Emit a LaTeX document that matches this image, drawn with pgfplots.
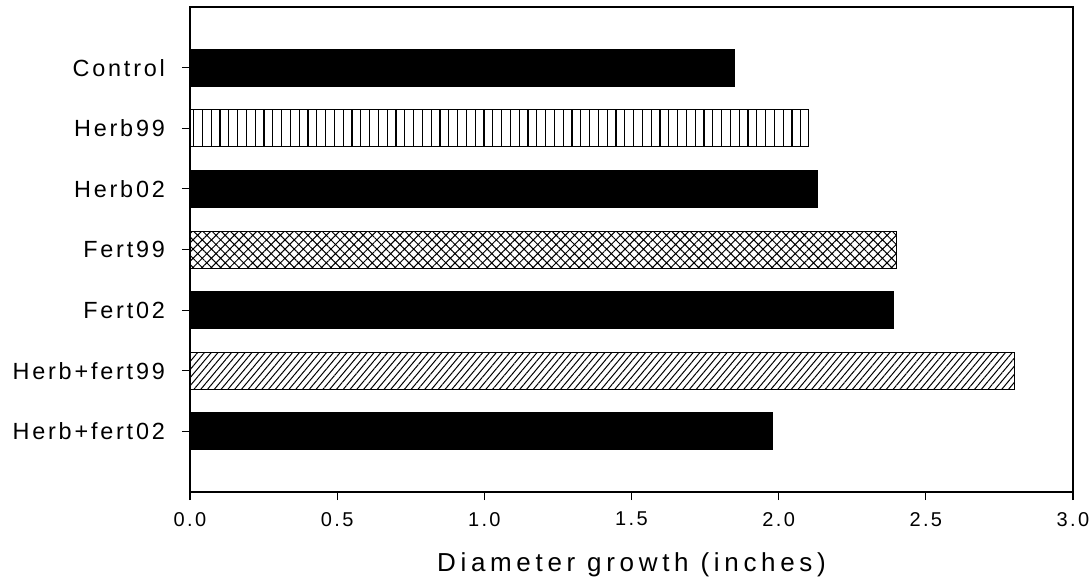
\documentclass[border=0pt]{standalone}
\usepackage{fontspec}
\setmainfont{Liberation Sans}[LetterSpace=12]
\newfontfamily\labfont{Liberation Sans}[LetterSpace=18]
\usepackage{pgfplots}
\pgfplotsset{compat=1.18}
\usetikzlibrary{patterns.meta}
\begin{document}
\begin{tikzpicture}
\begin{axis}[
  scale only axis, width=441.5pt, height=242.5pt,
  xbar, bar width=0.61, bar shift=0pt,
  xmin=0, xmax=3, ymin=-1, ymax=7, y dir=reverse,
  axis line style={line width=0.75pt},
  tick align=outside, xtick pos=bottom, ytick pos=left,
  major tick length=4pt,
  tick style={line width=0.6pt, black},
  ytick={0,1,2,3,4,5,6},
  yticklabels={Control,Herb99,Herb02,Fert99,Fert02,Herb+fert99,Herb+fert02},
  yticklabel style={font=\fontsize{11.7}{14}\selectfont, anchor=east, xshift=-5pt},
  xtick={0,0.5,1,1.5,2,2.5,3},
  xticklabel style={font=\fontsize{10}{12}\selectfont, yshift=-2.5pt,
    /pgf/number format/.cd, fixed, fixed zerofill, precision=1, assume math mode=true},
  xlabel={Diameter growth (inches)},
  xlabel style={font=\labfont\fontsize{13}{15}\selectfont, at={(rel axis cs:0.5,0)}, anchor=center, yshift=-36.5pt},
]
\addplot[fill=black, draw=black, line width=0.4pt] coordinates {(1.85,0)};
\addplot[pattern={Lines[angle=90,distance=4.4pt,line width=0.6pt]}, draw=black, line width=0.5pt] coordinates {(2.10,1)};
\addplot[fill=black, draw=black, line width=0.4pt] coordinates {(2.13,2)};
\addplot[pattern={Hatch[angle=45,distance=3.25pt,line width=0.5pt]}, draw=black, line width=0.5pt] coordinates {(2.40,3)};
\addplot[fill=black, draw=black, line width=0.4pt] coordinates {(2.39,4)};
\addplot[pattern={Lines[angle=50,distance=2.6pt,line width=0.5pt]}, draw=black, line width=0.5pt] coordinates {(2.80,5)};
\addplot[fill=black, draw=black, line width=0.4pt] coordinates {(1.98,6)};
\end{axis}
\pgfresetboundingbox
\path[use as bounding box] (-95pt,-44pt) rectangle (451pt,246pt);
\end{tikzpicture}
\end{document}
